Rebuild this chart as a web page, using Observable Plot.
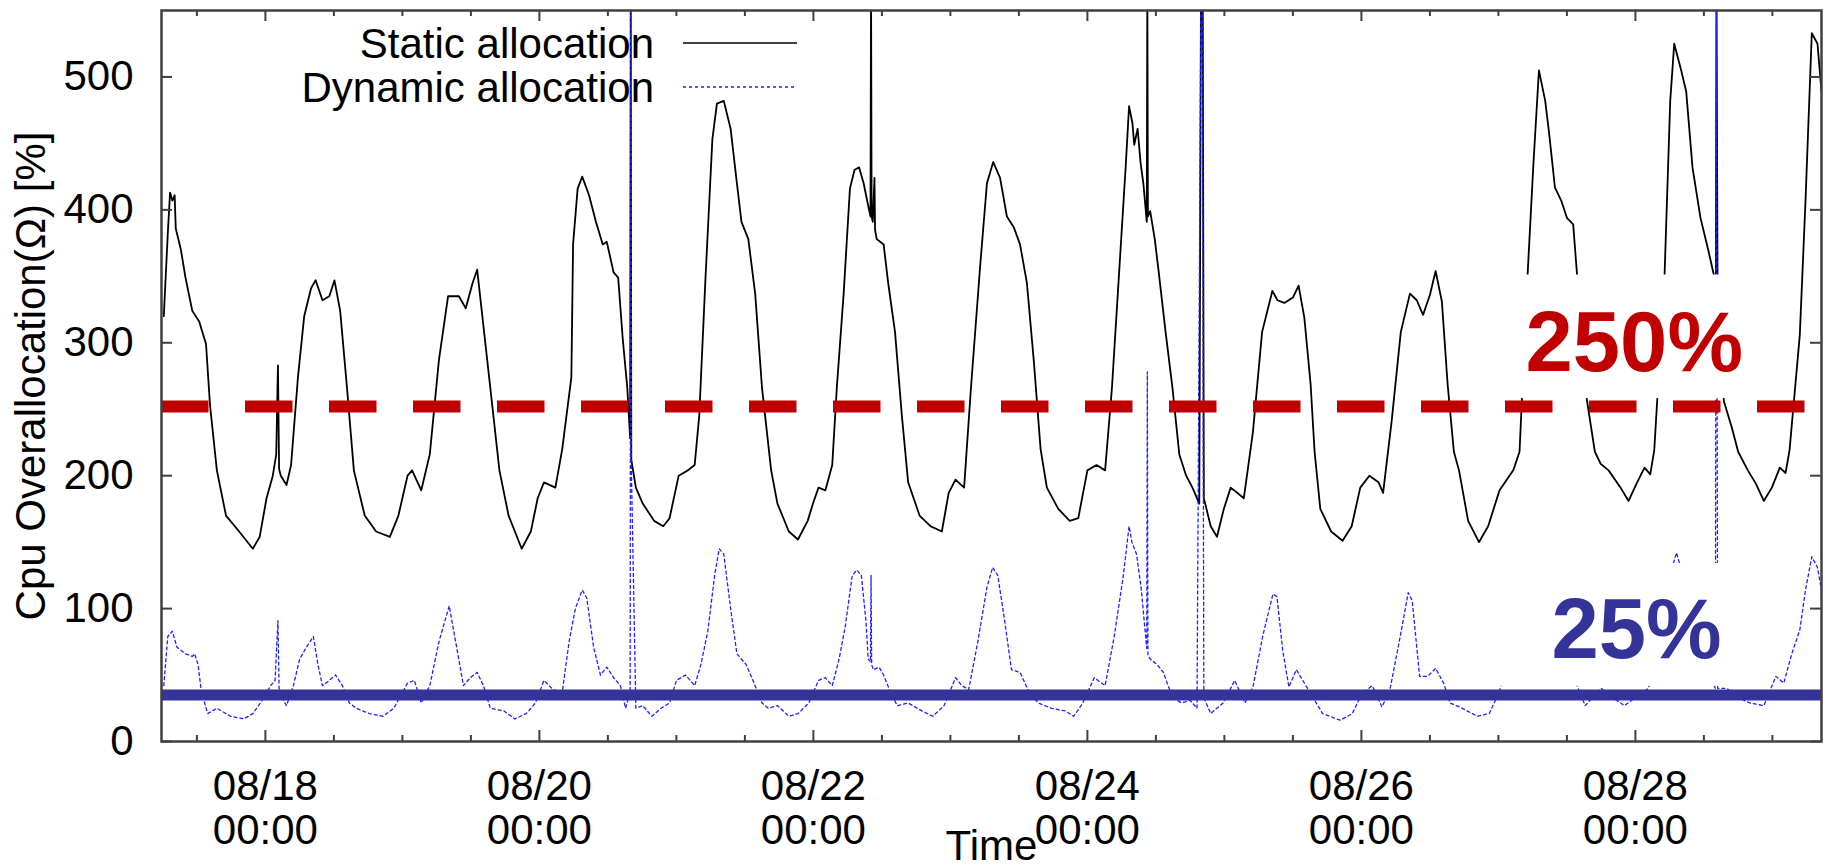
<!DOCTYPE html>
<html><head><meta charset="utf-8">
<script src="https://cdn.jsdelivr.net/npm/d3@7"></script>
<script src="https://cdn.jsdelivr.net/npm/@observablehq/plot@0.6"></script>
<style>
html,body{margin:0;padding:0;background:#fff;}
#chart{width:1825px;height:867px;overflow:hidden;}
</style></head><body><div id="chart"></div>
<script>
// ---- data (hours since 08/17 00:00, value in %) ----
const staticSeries = [
[6.2,320],[6.9,382],[7.3,413],[7.7,407],[8.1,411],[8.3,386],[9.2,370],[10.0,349],[11.2,324],[12.4,316],[13.6,299],[14.3,253],[15.5,204],[17.1,170],[19.4,158],[21.8,145],[23.0,154],[24.2,183],[25.3,200],[25.9,216],[26.2,283],[26.4,205],[26.7,200],[27.7,193],[28.5,208],[29.7,274],[30.8,320],[32.0,341],[32.8,347],[34.0,332],[35.2,335],[36.1,347],[37.1,324],[38.3,266],[39.5,204],[41.4,170],[43.4,158],[45.8,154],[47.3,170],[48.9,200],[49.7,204],[51.3,189],[52.8,216],[54.4,287],[56.0,335],[57.9,335],[59.1,326],[60.3,345],[61.1,355],[61.9,324],[63.4,266],[65.0,204],[66.6,170],[68.9,145],[70.5,158],[71.7,183],[72.8,195],[74.8,191],[76.0,220],[77.6,274],[77.9,374],[78.7,416],[79.5,425],[80.7,411],[81.9,391],[83.1,374],[83.8,376],[85.0,353],[85.8,349],[86.6,303],[87.4,266],[87.9,228],[88.0,570],[88.1,212],[88.9,191],[90.1,179],[92.1,166],[93.7,162],[94.8,168],[96.4,200],[98.0,204],[99.2,208],[100.0,245],[101.1,349],[102.3,453],[103.1,480],[104.3,482],[105.5,461],[106.6,420],[107.4,391],[108.6,378],[109.8,337],[111.0,266],[112.6,204],[113.7,179],[115.7,158],[117.3,152],[119.0,166],[120.0,180],[120.9,191],[122.1,189],[123.3,208],[124.1,266],[125.3,337],[126.4,416],[127.2,430],[128.0,432],[128.8,420],[129.6,403],[130.0,395],[130.1,570],[130.2,395],[130.4,391],[130.7,424],[130.8,385],[131.1,378],[132.3,374],[133.1,345],[134.3,308],[135.5,245],[136.6,195],[138.6,170],[140.5,162],[142.5,158],[143.7,187],[144.9,197],[146.4,191],[147.6,266],[149.2,357],[150.4,420],[151.5,436],[152.7,424],[153.9,395],[155.1,387],[156.2,374],[157.4,345],[158.6,287],[159.8,220],[160.9,191],[162.9,175],[164.9,166],[166.4,168],[168.0,204],[169.6,208],[171.1,204],[172.3,266],[173.5,349],[174.7,432],[175.3,478],[175.9,465],[176.2,449],[176.8,461],[177.3,436],[177.8,420],[178.4,391],[178.5,570],[178.6,395],[179.0,399],[179.8,378],[180.5,353],[181.7,308],[182.9,266],[184.1,216],[185.3,200],[186.4,191],[187.6,179],[187.9,570],[188.2,570],[188.4,183],[189.6,162],[190.7,154],[191.9,175],[193.1,191],[194.3,187],[195.4,183],[197.0,233],[198.6,308],[200.4,339],[201.3,332],[202.5,330],[204.0,334],[205.0,343],[206.0,319],[207.1,269],[207.8,218],[208.8,175],[210.7,158],[212.7,151],[214.3,162],[215.8,191],[217.4,200],[219.0,195],[219.8,187],[221.3,241],[222.9,308],[224.5,337],[225.7,332],[226.8,321],[228.0,336],[229.0,354],[230.1,331],[231.1,269],[232.2,218],[233.1,204],[234.7,166],[236.6,150],[238.2,162],[240.2,189],[242.6,204],[243.7,218],[245.1,350],[246.1,432],[247.1,505],[248.2,482],[248.9,457],[249.9,417],[251.0,407],[252.0,394],[253.1,389],[253.8,350],[255.5,257],[256.9,218],[257.9,209],[259.3,204],[261.4,191],[262.8,181],[264.2,194],[265.6,206],[266.6,201],[267.3,219],[269.1,350],[270.1,482],[270.8,525],[271.9,507],[272.9,489],[274.0,432],[275.4,394],[276.8,369],[277.8,350],[278.1,345],[278.2,570],[278.4,330],[279.5,256],[280.9,236],[282.0,218],[283.7,204],[285.1,194],[286.5,181],[287.9,191],[289.3,206],[290.3,202],[291.0,219],[292.8,306],[293.8,407],[294.9,533],[295.9,525],[296.6,489]
];
const dynamicSeries = [
[6.2,42],[6.9,79],[7.7,83],[8.5,71],[10.0,66],[11.2,64],[11.6,66],[12.2,58],[12.8,37],[13.9,21],[15.5,25],[17.9,19],[20.2,17],[21.8,21],[23.8,33],[24.9,42],[25.7,46],[26.2,91],[26.4,40],[26.9,33],[27.7,27],[28.9,42],[30.0,62],[31.2,71],[32.4,79],[33.2,58],[34.0,42],[35.2,46],[36.3,50],[37.5,42],[38.7,29],[39.9,25],[42.2,21],[44.6,19],[46.5,25],[48.9,44],[50.1,46],[51.3,29],[52.8,42],[54.4,75],[56.2,102],[57.5,71],[58.7,42],[59.9,48],[61.1,52],[62.2,42],[63.4,25],[65.8,23],[67.7,17],[69.7,21],[71.3,29],[72.8,46],[74.4,39],[76.0,37],[77.2,75],[78.3,100],[79.5,114],[80.3,108],[81.5,71],[82.7,50],[83.8,56],[85.0,48],[86.2,42],[87.1,25],[87.9,37],[88.0,570],[88.1,208],[88.9,25],[90.1,27],[91.7,19],[93.3,25],[94.8,29],[96.0,46],[97.6,50],[99.2,42],[100.3,58],[101.5,83],[102.7,125],[103.5,145],[104.3,141],[105.5,100],[106.6,66],[108.2,58],[109.4,46],[111.0,29],[112.1,25],[113.7,27],[115.7,19],[117.3,21],[119.2,29],[120.9,46],[122.1,48],[123.3,42],[124.5,62],[125.6,87],[126.8,125],[127.6,129],[128.4,125],[129.2,91],[129.6,62],[130.0,60],[130.1,125],[130.2,58],[130.5,54],[131.5,56],[132.3,50],[133.5,37],[134.7,27],[136.6,29],[139.0,23],[140.9,19],[142.9,27],[144.9,48],[146.0,42],[147.2,39],[148.8,75],[150.4,116],[151.4,131],[152.3,125],[153.5,91],[154.7,54],[156.2,52],[157.8,37],[159.4,29],[161.7,25],[164.1,23],[165.6,19],[167.2,29],[169.2,48],[171.1,42],[172.7,79],[174.3,125],[175.3,162],[175.8,150],[176.6,141],[177.4,116],[178.2,79],[178.4,70],[178.5,278],[178.6,65],[179.0,62],[180.2,58],[181.3,52],[182.9,33],[184.5,29],[186.0,31],[187.2,25],[187.9,570],[188.2,570],[188.3,210],[188.4,33],[189.6,21],[190.4,24],[191.8,29],[193.8,46],[195.6,29],[197.0,41],[198.7,79],[200.5,111],[201.2,109],[202.2,69],[203.3,41],[204.6,54],[206.0,44],[207.4,34],[209.2,21],[212.3,16],[214.4,21],[216.1,36],[217.9,42],[219.6,26],[221.0,39],[222.8,79],[224.2,112],[224.9,106],[226.2,49],[227.6,49],[229.0,55],[230.4,44],[231.5,29],[233.2,26],[236.3,19],[238.4,21],[239.8,34],[240.5,42],[242.5,70],[244.5,100],[246.5,125],[247.5,120],[249.0,95],[250.5,65],[252.0,50],[253.5,45],[255.2,27],[256.5,33],[258.0,40],[260.0,33],[262.1,27],[264.0,33],[266.3,40],[268.0,80],[270.0,125],[271.2,142],[272.0,130],[273.5,95],[275.0,65],[277.0,50],[278.0,40],[278.2,570],[278.4,40],[280.0,40],[282.0,33],[284.0,29],[286.5,27],[288.6,49],[290.0,44],[291.4,66],[292.8,84],[293.8,114],[294.9,139],[295.9,131],[296.6,114]
];
const seriesNames = ["Static allocation", "Dynamic allocation"];
const yTickValues = [0, 100, 200, 300, 400, 500];
const xTickHours = [24, 72, 120, 168, 216, 264];
const xTickLabels = ["08/18\n00:00", "08/20\n00:00", "08/22\n00:00", "08/24\n00:00", "08/26\n00:00", "08/28\n00:00"];
const thresholdValues = [252, 35];
const thresholdLabels = ["250%", "25%"];
const yTitle = "Cpu Overallocation(\u03A9) [%]";
const xTitle = "Time";
// annotation anchors (data units: hours, %)
const labelAnchors = [{h: 263.8, v: 279}, {h: 264.2, v: 62.5}];
const labelBoxes = [{h1: 240.4, h2: 282.4, v1: 258, v2: 351}, {h1: 240.4, h2: 282.4, v1: 41.5, v2: 134}];

// ---- helpers ----
const base = Date.UTC(2013, 7, 17);
const toTime = h => new Date(base + h * 3600e3);
const staticData = staticSeries.map(([h, v]) => ({t: toTime(h), v}));
const dynamicData = dynamicSeries.map(([h, v]) => ({t: toTime(h), v}));
const xTicks = xTickHours.map((h, i) => ({t: toTime(h), label: xTickLabels[i]}));
const majorTimes = xTickHours.map(toTime);
const minorTimes = d3.range(12, 296, 12).filter(h => !xTickHours.includes(h)).map(toTime);

const W = 1825, H = 867, ML = 161, MR = 4, MT = 10, MB = 126;
const FW = W - ML - MR, FH = H - MT - MB;
const axisColor = "#404040";
const red = "#c00000", navy = "#333399";

const chart = Plot.plot({
  width: W, height: H,
  marginLeft: ML, marginRight: MR, marginTop: MT, marginBottom: MB,
  x: {type: "utc", domain: [toTime(5.8), toTime(296.6)], axis: null},
  y: {domain: [0, 550], axis: null},
  style: {fontFamily: "'Liberation Sans', Arial, Helvetica, sans-serif", fontSize: "42px", color: "black", background: "white", overflow: "visible"},
  marks: [
    Plot.line(staticData, {x: "t", y: "v", stroke: "black", strokeWidth: 1.8, clip: true}),
    Plot.line(dynamicData, {x: "t", y: "v", stroke: "#1f1fff", strokeWidth: 1.3, strokeDasharray: "3,3", clip: true}),
    Plot.rect(labelBoxes, {x1: d => toTime(d.h1), x2: d => toTime(d.h2), y1: "v1", y2: "v2", fill: "white"}),
    Plot.ruleY([thresholdValues[0]], {stroke: red, strokeWidth: 12, strokeDasharray: "47.5,36.5"}),
    Plot.ruleY([thresholdValues[1]], {stroke: navy, strokeWidth: 11}),
    Plot.text([0], {x: () => toTime(labelAnchors[0].h), y: () => labelAnchors[0].v, text: () => thresholdLabels[0], fill: red, fontSize: 85, fontWeight: "bold", lineAnchor: "bottom", textAnchor: "middle"}),
    Plot.text([1], {x: () => toTime(labelAnchors[1].h), y: () => labelAnchors[1].v, text: () => thresholdLabels[1], fill: navy, fontSize: 85, fontWeight: "bold", lineAnchor: "bottom", textAnchor: "middle"}),
    // inward ticks
    Plot.tickY(yTickValues, {y: d => d, insetRight: FW - 11, stroke: axisColor, strokeWidth: 2}),
    Plot.tickY(yTickValues, {y: d => d, insetLeft: FW - 11, stroke: axisColor, strokeWidth: 2}),
    Plot.tickX(majorTimes, {x: d => d, insetTop: FH - 11, stroke: axisColor, strokeWidth: 2}),
    Plot.tickX(majorTimes, {x: d => d, insetBottom: FH - 11, stroke: axisColor, strokeWidth: 2}),
    Plot.tickX(minorTimes, {x: d => d, insetTop: FH - 6, stroke: axisColor, strokeWidth: 2}),
    Plot.tickX(minorTimes, {x: d => d, insetBottom: FH - 6, stroke: axisColor, strokeWidth: 2}),
    Plot.frame({stroke: axisColor, strokeWidth: 2.5}),
    // tick labels
    Plot.text(yTickValues, {y: d => d, text: d => String(d), frameAnchor: "left", textAnchor: "end", dx: -28, fill: "black"}),
    Plot.text(xTicks, {x: "t", text: "label", frameAnchor: "bottom", lineAnchor: "top", dy: 27, lineHeight: 1.05, fill: "black"}),
    // axis titles
    Plot.text([yTitle], {text: d => d, frameAnchor: "left", rotate: -90, dx: -117, lineAnchor: "bottom", textAnchor: "middle", fill: "black"}),
    Plot.text([xTitle], {text: d => d, frameAnchor: "bottom", lineAnchor: "bottom", dy: 118, fill: "black"})
  ]
});
document.getElementById("chart").appendChild(chart);

// legend (inside plot, upper left), drawn beneath the data lines
const svg = d3.select(chart);
const lg = svg.insert("g", ":first-child")
  .attr("font-family", "'Liberation Sans', Arial, Helvetica, sans-serif")
  .attr("font-size", 42);
const legendRows = [
  {name: seriesNames[0], y: 43, stroke: "black", dash: null, w: 1.6},
  {name: seriesNames[1], y: 87, stroke: "#1f1fff", dash: "3,3", w: 1.3}
];
legendRows.forEach(r => {
  lg.append("text").attr("x", 654).attr("y", r.y + 15).attr("text-anchor", "end").attr("fill", "black").text(r.name);
  const ln = lg.append("line").attr("x1", 683).attr("x2", 797).attr("y1", r.y).attr("y2", r.y)
    .attr("stroke", r.stroke).attr("stroke-width", r.w);
  if (r.dash) ln.attr("stroke-dasharray", r.dash);
});
</script>
</body></html>
